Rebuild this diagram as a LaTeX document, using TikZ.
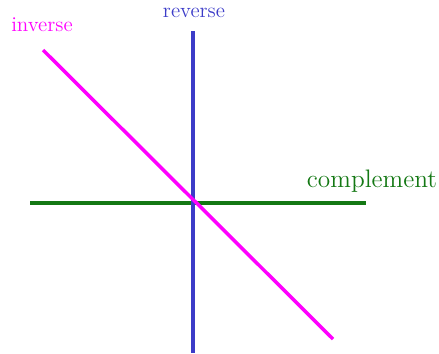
\documentclass[tikz,border=0pt]{standalone}
\usepackage{tikz}
\usetikzlibrary{positioning}

\definecolor{invcol}{RGB}{255,0,255}
\definecolor{revcol}{RGB}{60,60,200}
\definecolor{compcol}{RGB}{20,120,20}

\begin{document}
\begin{tikzpicture}[
    x=0.02cm, y=-0.02cm,
    axis/.style={line width=1.8pt},
    lbl/.style={inner sep=0pt, font=\large}
]
\useasboundingbox (0,0) rectangle (439,353);

% Axis end points
\coordinate (revtop) at (193,31);
\coordinate (revbot) at (193,353);
\coordinate (compleft) at (30,203);
\coordinate (compright) at (366,203);
\coordinate (invtop) at (43,50);
\coordinate (invbot) at (333,339);

% Labels
\node[lbl, text=invcol] (inv) at (42,25) {inverse};
\node[lbl, text=revcol] (rev) at (194,13) {reverse};
\node[lbl, text=compcol, font=\Large] (comp) at (372,181) {complement};

% Lines
\draw[axis, compcol] (compleft) -- (compright);
\draw[axis, revcol] (revtop) -- (revbot);
\draw[axis, invcol, line width=2pt] (invtop) -- (invbot);

\end{tikzpicture}
\end{document}
